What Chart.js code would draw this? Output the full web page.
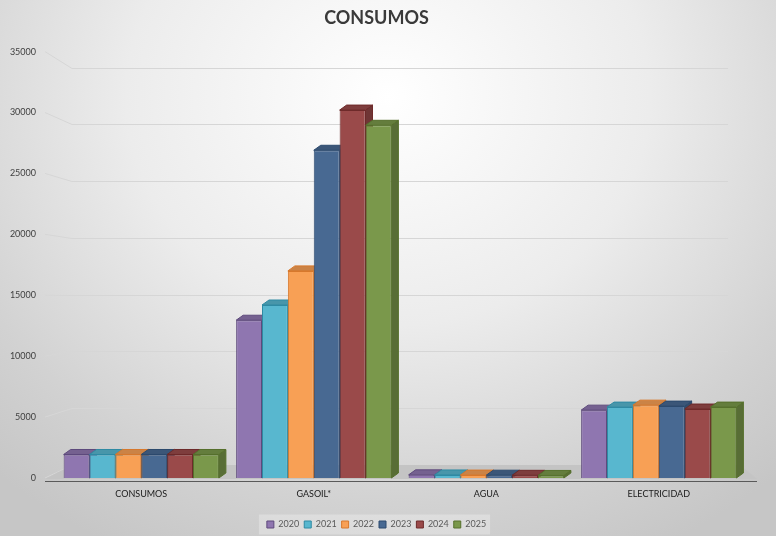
<!DOCTYPE html>
<html>
<head>
<meta charset="utf-8">
<script src="https://cdn.jsdelivr.net/npm/chart.js@4"></script>
<style>
  html, body { margin: 0; padding: 0; }
  #wrap {
    width: 776px; height: 536px; position: relative;
    background: radial-gradient(ellipse 75% 95% at 50% 18%, #ffffff 0%, #ececec 45%, #d2d2d2 80%, #c6c6c6 100%);
  }
</style>
</head>
<body>
<div id="wrap"><canvas id="chart"></canvas></div>
<script>
// ==================== DATA ====================
const categories = ['CONSUMOS', 'GASOIL*', 'AGUA', 'ELECTRICIDAD'];
const years = ['2020', '2021', '2022', '2023', '2024', '2025'];
const v2020 = [1930, 12950, 260, 5570];
const v2021 = [1930, 14200, 250, 5820];
const v2022 = [1930, 17000, 240, 5980];
const v2023 = [1930, 26900, 230, 5900];
const v2024 = [1930, 30200, 220, 5660];
const v2025 = [1930, 28950, 210, 5820];
const yTicks = [0, 5000, 10000, 15000, 20000, 25000, 30000, 35000];

const seriesValues = [v2020, v2021, v2022, v2023, v2024, v2025];
const frontColors = ['#8f76b0', '#58b7cf', '#f8a055', '#486992', '#9a4a4a', '#7a984b'];
const edgeColors = ['#5e4a7c', '#2f8aa3', '#d7782c', '#2c4a6e', '#6e2a2a', '#56702c'];

// ==================== HELPERS ====================
const DX = 7, DY = -5;

function shade(hex, f) {
    const n = parseInt(hex.slice(1), 16);
    const r = Math.round(((n >> 16) & 255) * f);
    const g = Math.round(((n >> 8) & 255) * f);
    const b = Math.round((n & 255) * f);
    return `rgb(${Math.min(r,255)},${Math.min(g,255)},${Math.min(b,255)})`;
}

function poly(ctx, pts, fill, stroke) {
    ctx.beginPath();
    ctx.moveTo(pts[0][0], pts[0][1]);
    for (let i = 1; i < pts.length; i++) ctx.lineTo(pts[i][0], pts[i][1]);
    ctx.closePath();
    ctx.fillStyle = fill;
    ctx.fill();
    if (stroke) { ctx.strokeStyle = stroke; ctx.lineWidth = 1; ctx.stroke(); }
}

// back wall gridlines, floor and bar depth faces (fronts come from Chart.js)
const depthPlugin = {
    id: 'depth3d',
    beforeDatasetsDraw(chart) {
        const { ctx, chartArea: a, scales: { y } } = chart;
        const span = a.bottom - a.top;
        const wallY = py => a.top + 16 + (py - a.top) * (span - 29) / span;
        const wallL = a.left + 17, wallR = a.right - 17;

        ctx.save();
        // gridlines on the back wall
        ctx.strokeStyle = '#d6d6d6';
        ctx.lineWidth = 1;
        yTicks.forEach(v => {
            const py = y.getPixelForValue(v);
            const wy = Math.round(wallY(py)) + 0.5;
            ctx.beginPath();
            ctx.moveTo(a.left - 10, py);
            ctx.lineTo(wallL, wy);
            ctx.lineTo(wallR, wy);
            ctx.stroke();
        });

        // floor
        const base = y.getPixelForValue(0);
        poly(ctx, [[a.left - 10, base + 1], [wallL, wallY(base)], [wallR + 12, wallY(base)], [a.right + 12, base + 1]], '#c4c4c4');
        ctx.strokeStyle = '#5a5a5a';
        ctx.beginPath();
        ctx.moveTo(a.left - 10, base + 3.5);
        ctx.lineTo(a.right + 12, base + 3.5);
        ctx.stroke();

        // side faces first, then top faces
        const bars = [];
        chart.data.datasets.forEach((ds, i) => {
            chart.getDatasetMeta(i).data.forEach(el => bars.push({ el, i }));
        });
        bars.forEach(({ el, i }) => {
            const r = el.x + el.width / 2;
            poly(ctx, [[r, el.y], [r + DX, el.y + DY], [r + DX, el.base + DY], [r, el.base]],
                shade(frontColors[i], 0.72), edgeColors[i]);
        });
        bars.forEach(({ el, i }) => {
            const l = el.x - el.width / 2, r = el.x + el.width / 2;
            poly(ctx, [[l, el.y], [l + DX, el.y + DY], [r + DX, el.y + DY], [r, el.y]],
                shade(frontColors[i], 0.82), edgeColors[i]);
        });
        ctx.restore();
    }
};

// light box behind the legend
const legendBoxPlugin = {
    id: 'legendBox',
    beforeDraw(chart) {
        const boxes = chart.legend && chart.legend.legendHitBoxes;
        if (!boxes || !boxes.length) return;
        const l = Math.min(...boxes.map(b => b.left)) - 8;
        const r = Math.max(...boxes.map(b => b.left + b.width)) + 4;
        const cy = boxes[0].top + boxes[0].height / 2;
        const ctx = chart.ctx;
        ctx.save();
        ctx.fillStyle = 'rgba(255,255,255,0.28)';
        ctx.fillRect(l, cy - 10, r - l, 20);
        ctx.restore();
    }
};

// ==================== CHART ====================
new Chart(document.getElementById('chart'), {
    type: 'bar',
    data: {
        labels: categories,
        datasets: years.map((yr, i) => ({
            label: yr,
            data: seriesValues[i],
            backgroundColor: frontColors[i],
            borderColor: edgeColors[i],
            borderWidth: 1,
            barPercentage: 1,
            categoryPercentage: 0.9
        }))
    },
    options: {
        responsive: true,
        maintainAspectRatio: false,
        animation: false,
        layout: { padding: { left: 8, right: 31, top: 0, bottom: -3 } },
        plugins: {
            title: {
                display: true,
                text: 'CONSUMOS',
                color: '#3a3a3a',
                font: { family: 'Lato', size: 18, weight: 'bold' },
                padding: { top: 7, bottom: 23 }
            },
            legend: {
                position: 'bottom',
                labels: {
                    boxWidth: 7,
                    boxHeight: 7,
                    padding: 5,
                    color: '#595959',
                    font: { family: 'Lato', size: 9 }
                }
            },
            tooltip: { enabled: false }
        },
        scales: {
            x: {
                grid: { display: false, drawTicks: false },
                border: { display: false },
                ticks: { color: '#1a1a1a', padding: 11, font: { family: 'Lato', size: 9 } },
                afterFit: s => { s.height = 37; }
            },
            y: {
                min: 0,
                max: 35000,
                afterBuildTicks: s => { s.ticks = yTicks.map(v => ({ value: v })); },
                afterFit: s => { s.width = 47; },
                grid: { display: false, drawTicks: false },
                border: { display: false },
                ticks: {
                    color: '#404040', padding: 19,
                    font: { family: 'Lato', size: 9 },
                    callback: v => String(v)
                }
            }
        }
    },
    plugins: [depthPlugin, legendBoxPlugin]
});
</script>
</body>
</html>
